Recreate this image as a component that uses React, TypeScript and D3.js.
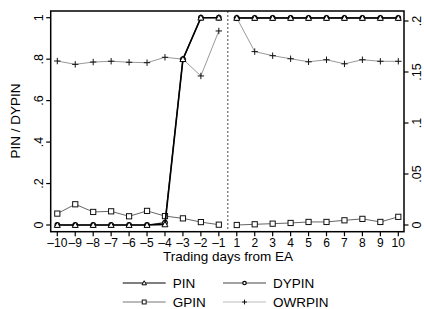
import * as d3 from "d3";

// trading days relative to the earnings announcement
const preDays = ["-10", "-9", "-8", "-7", "-6", "-5", "-4", "-3", "-2", "-1"];
const postDays = ["1", "2", "3", "4", "5", "6", "7", "8", "9", "10"];

// before EA (left axis)
const pinPre = [0, 0, 0, 0, 0, 0, 0.003, 0.8, 1, 1];
const dypinPre = [0, 0, 0, 0, 0, 0, 0.011, 0.8, 1, 1];
const gpinPre = [0.055, 0.1, 0.063, 0.066, 0.042, 0.068, 0.043, 0.032, 0.014, 0.0015];
const owrpinPre = [0.791, 0.775, 0.786, 0.79, 0.785, 0.783, 0.809, 0.8, 0.719, 0.936];

// after EA (right axis)
const pinPost = [0.203, 0.203, 0.203, 0.203, 0.203, 0.203, 0.203, 0.203, 0.203, 0.203];
const dypinPost = [0.203, 0.203, 0.203, 0.203, 0.203, 0.203, 0.203, 0.203, 0.203, 0.203];
const gpinPost = [0, 0.0007, 0.0013, 0.002, 0.003, 0.003, 0.0046, 0.006, 0.003, 0.008];
const owrpinPost = [0.203, 0.17, 0.166, 0.163, 0.16, 0.162, 0.158, 0.162, 0.1605, 0.1605];

const leftTicks = [0, 0.2, 0.4, 0.6, 0.8, 1];
const rightTicks = [0, 0.05, 0.1, 0.15, 0.2];

const W = 424;
const H = 309;
const box = { left: 50.7, right: 404, top: 11, bottom: 231.7 };
const FONT = "Liberation Sans, Arial, sans-serif";

const fmt = (v: number) => (v === 0 ? "0" : v === 1 ? "1" : String(v).replace(/^0/, ""));
const dayLabel = (d: string) => d.replace("-", "\u2013");

type Marker = "triangle" | "circle" | "square" | "plus";

const series = [
  { name: "PIN", pre: pinPre, post: pinPost, color: "#000", markColor: "#000", width: 1.6, marker: "triangle" as Marker },
  { name: "DYPIN", pre: dypinPre, post: dypinPost, color: "#222", markColor: "#000", width: 1.2, marker: "circle" as Marker },
  { name: "GPIN", pre: gpinPre, post: gpinPost, color: "#666", markColor: "#111", width: 1, marker: "square" as Marker },
  { name: "OWRPIN", pre: owrpinPre, post: owrpinPost, color: "#999", markColor: "#111", width: 1, marker: "plus" as Marker },
];

const legendColors: Record<string, string> = {
  PIN: "#000",
  DYPIN: "#444",
  GPIN: "#777",
  OWRPIN: "#bbb",
};

const drawMarker = (m: Marker, x: number, y: number, color: string, key: string | number, s = 1) => {
  if (m === "triangle") {
    const r = 3 * s;
    return (
      <path key={key} d={`M${x},${y - r}L${x + r},${y + r * 0.8}L${x - r},${y + r * 0.8}Z`}
        fill="white" stroke={color} strokeWidth={1} />
    );
  }
  if (m === "circle") {
    return <circle key={key} cx={x} cy={y} r={2.3 * s} fill="white" stroke={color} strokeWidth={1.2} />;
  }
  if (m === "square") {
    const r = 2.6 * s;
    return <rect key={key} x={x - r} y={y - r} width={2 * r} height={2 * r} fill="white" stroke={color} strokeWidth={1} />;
  }
  const r = 3.2 * s;
  return (
    <path key={key} d={`M${x - r},${y}H${x + r}M${x},${y - r}V${y + r}`} stroke={color} strokeWidth={1} fill="none" />
  );
};

const App = () => {
  const x = d3.scalePoint<string>().domain([...preDays, ...postDays]).range([57.3, 398.3]);
  const yL = d3.scaleLinear().domain([0, 1]).range([225, 17.7]);
  const yR = d3.scaleLinear().domain([0, 0.2]).range([225, 21]);

  const line = (days: string[], vals: number[], y: d3.ScaleLinear<number, number>) =>
    d3.line<number>()
      .x((_, i) => x(days[i]) as number)
      .y((v) => y(v))(vals) as string;

  const midX = ((x("-1") as number) + (x("1") as number)) / 2;

  return (
    <svg width={W} height={H} style={{ position: "absolute", left: 0, top: 0 }} fontFamily={FONT}>
      <rect width={W} height={H} fill="white" />

      {/* dotted EA divider */}
      <line x1={midX} x2={midX} y1={box.top} y2={box.bottom} stroke="#666" strokeWidth={1.2} strokeDasharray="2,2" />

      {/* series lines: drawn back to front */}
      {[...series].reverse().map((s) => (
        <g key={s.name}>
          <path d={line(preDays, s.pre, yL)} fill="none" stroke={s.color} strokeWidth={s.width} />
          <path d={line(postDays, s.post, yR)} fill="none" stroke={s.color} strokeWidth={s.width} />
          {s.pre.map((v, i) => drawMarker(s.marker, x(preDays[i]) as number, yL(v), s.markColor, "a" + i))}
          {s.post.map((v, i) => drawMarker(s.marker, x(postDays[i]) as number, yR(v), s.markColor, "b" + i))}
        </g>
      ))}

      {/* frame */}
      <rect x={box.left} y={box.top} width={box.right - box.left} height={box.bottom - box.top}
        fill="none" stroke="#000" strokeWidth={1.5} />

      {/* left axis */}
      {leftTicks.map((t) => (
        <g key={"l" + t}>
          <line x1={box.left - 4.5} x2={box.left} y1={yL(t)} y2={yL(t)} stroke="#000" strokeWidth={1.2} />
          <text transform={`translate(${42.5},${yL(t)}) rotate(-90)`} textAnchor="middle" fontSize={12.5}>{fmt(t)}</text>
        </g>
      ))}
      <text transform={`translate(${20},${121}) rotate(-90)`} textAnchor="middle" fontSize={13.5}>PIN / DYPIN</text>

      {/* right axis */}
      {rightTicks.map((t) => (
        <g key={"r" + t}>
          <line x1={box.right} x2={box.right + 4.5} y1={yR(t)} y2={yR(t)} stroke="#000" strokeWidth={1.2} />
          <text transform={`translate(${421},${yR(t)}) rotate(-90)`} textAnchor="middle" fontSize={12.5}>{fmt(t)}</text>
        </g>
      ))}

      {/* x axis */}
      {x.domain().map((d) => (
        <g key={"x" + d}>
          <line x1={x(d)} x2={x(d)} y1={box.bottom} y2={box.bottom + 4.5} stroke="#000" strokeWidth={1.2} />
          <text x={x(d)} y={247} textAnchor="middle" fontSize={12}>{dayLabel(d)}</text>
        </g>
      ))}
      <text x={228} y={261} textAnchor="middle" fontSize={13.5}>Trading days from EA</text>

      {/* legend */}
      {series.map((s, i) => {
        const lx = i % 2 === 0 ? 122.7 : 223;
        const ly = i < 2 ? 283 : 302;
        return (
          <g key={"lg" + s.name}>
            <line x1={lx} x2={lx + 43} y1={ly} y2={ly} stroke={legendColors[s.name]} strokeWidth={1.2} />
            {drawMarker(s.marker, lx + 21.5, ly, s.markColor, "m", 0.75)}
            <text x={lx + 50} y={ly + 4.8} fontSize={13.5}>{s.name}</text>
          </g>
        );
      })}
    </svg>
  );
};

export default App;
